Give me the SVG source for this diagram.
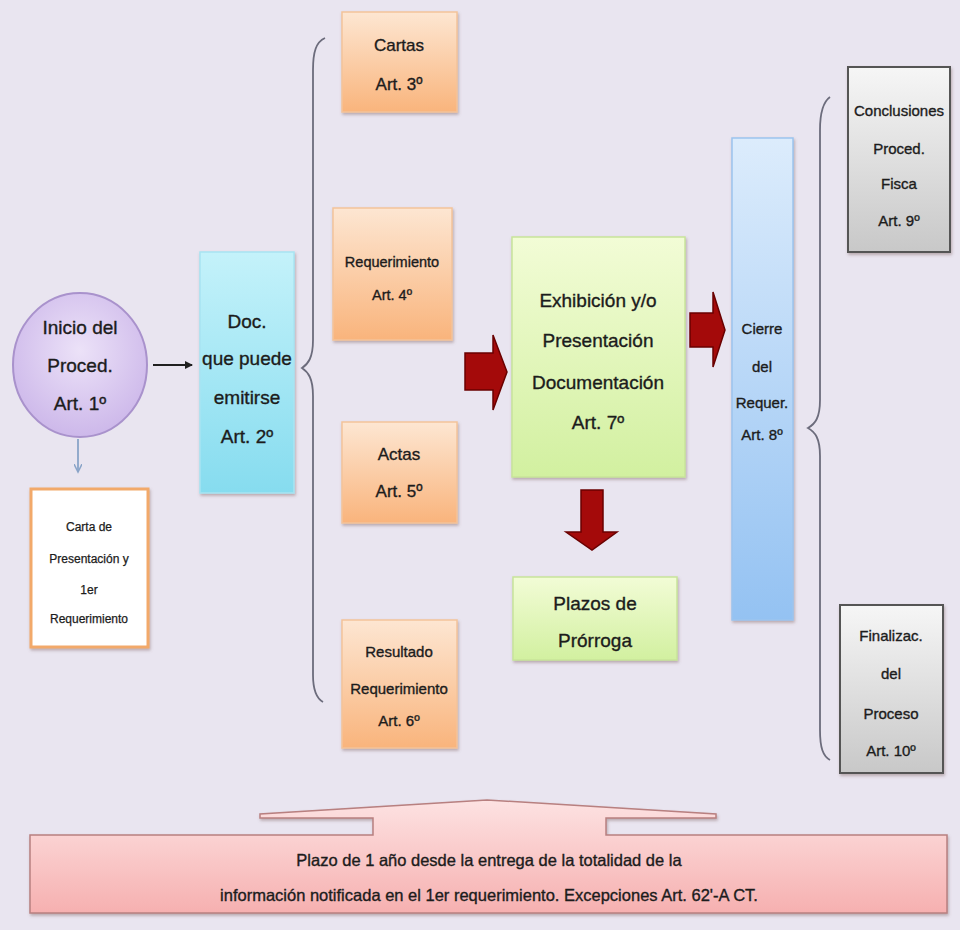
<svg xmlns="http://www.w3.org/2000/svg" width="960" height="930" viewBox="0 0 960 930">
<defs>
<linearGradient id="gOrange" x1="0" y1="0" x2="0" y2="1"><stop offset="0" stop-color="#fde6d2"/><stop offset="1" stop-color="#f9b47c"/></linearGradient>
<linearGradient id="gCyan" x1="0" y1="0" x2="0" y2="1"><stop offset="0" stop-color="#c4f2fa"/><stop offset="1" stop-color="#86dcef"/></linearGradient>
<linearGradient id="gGreen" x1="0" y1="0" x2="0" y2="1"><stop offset="0" stop-color="#f2fcd6"/><stop offset="1" stop-color="#d2f0a0"/></linearGradient>
<linearGradient id="gBlue" x1="0" y1="0" x2="0" y2="1"><stop offset="0" stop-color="#dcecfc"/><stop offset="1" stop-color="#94c2f2"/></linearGradient>
<linearGradient id="gGray" x1="0" y1="0" x2="0" y2="1"><stop offset="0" stop-color="#f6f6f6"/><stop offset="1" stop-color="#c8c8c8"/></linearGradient>
<linearGradient id="gPink" x1="0" y1="0" x2="0" y2="1"><stop offset="0" stop-color="#fde2e2"/><stop offset="1" stop-color="#f6b0b0"/></linearGradient>
<radialGradient id="gPurple" cx="0.5" cy="0.4" r="0.6"><stop offset="0" stop-color="#ece2f8"/><stop offset="1" stop-color="#cdb8ea"/></radialGradient>
<marker id="mBlack" markerWidth="8" markerHeight="8" refX="7" refY="4" orient="auto" markerUnits="userSpaceOnUse"><path d="M0,0 L8,4 L0,8 Z" fill="#202020"/></marker>
<marker id="mBlue" markerWidth="10" markerHeight="8" refX="8" refY="4" orient="auto" markerUnits="userSpaceOnUse"><path d="M0,0 L8,4 L0,8" fill="none" stroke="#8aa4c8" stroke-width="1.5"/></marker>
<filter id="sh" x="-10%" y="-10%" width="130%" height="130%"><feDropShadow dx="1" dy="2" stdDeviation="1.5" flood-color="#806060" flood-opacity="0.45"/></filter>
<style>
text{font-family:"Liberation Sans",Arial,sans-serif;fill:#1c1c1c;stroke:#1c1c1c;stroke-width:0.35;text-anchor:middle;dominant-baseline:central}
.t20{font-size:19px}
.t18{font-size:17px}
.t17{font-size:16.5px}
.t16{font-size:15px}
.t15{font-size:14.5px}
.t12{font-size:12px;stroke-width:0.25}
.orange{fill:url(#gOrange);stroke:#f3c39a;stroke-width:1.5}
.red{fill:#a40a0a;stroke:#6a0000;stroke-width:1.5}
.brace{fill:none;stroke:#6c6c7c;stroke-width:1.8}
</style>
</defs>
<rect width="960" height="930" fill="#e9e5f0"/>

<g id="connectors">
<line x1="78" y1="439" x2="78" y2="472" stroke="#8aa4c8" stroke-width="1.8" marker-end="url(#mBlue)"/>
<line x1="153" y1="365" x2="192" y2="365" stroke="#202020" stroke-width="2.2" marker-end="url(#mBlack)"/>
<path class="brace" d="M325,38 C316,42 313,52 313,70 L313,340 C313,358 308,364 302,368 C308,372 313,378 313,396 L313,675 C313,690 316,698 323,702"/>
<path class="brace" d="M830,97 C823,102 820,112 820,130 L820,400 C820,418 815,424 808,428 C815,432 820,438 820,456 L820,730 C820,748 823,756 830,760"/>
<polygon class="red" points="465,353 493,353 493,335 507,372 493,410 493,390 465,390"/>
<polygon class="red" points="690,313 713,313 713,292 725,330 713,367 713,347 690,347"/>
<polygon class="red" points="581,490 603,490 603,532 617,532 592,550 566,532 581,532"/>
</g>

<g id="inicio">
<ellipse cx="80" cy="365" rx="67" ry="72" fill="url(#gPurple)" stroke="#a992cc" stroke-width="2"/>
<text class="t20" x="80" y="327">Inicio del</text>
<text class="t20" x="80" y="365">Proced.</text>
<text class="t20" x="80" y="403">Art. 1º</text>
</g>

<g id="carta">
<rect x="31" y="489" width="117" height="158" fill="#ffffff" stroke="#f2a96a" stroke-width="3" filter="url(#sh)"/>
<text class="t12" x="89" y="527">Carta de</text>
<text class="t12" x="89" y="559">Presentación y</text>
<text class="t12" x="89" y="590">1er</text>
<text class="t12" x="89" y="619">Requerimiento</text>
</g>

<g id="doc">
<rect x="200" y="252" width="94" height="241" fill="url(#gCyan)" stroke="#a8e4f2" stroke-width="1.5" filter="url(#sh)"/>
<text class="t20" x="247" y="321">Doc.</text>
<text class="t20" x="247" y="358">que puede</text>
<text class="t20" x="247" y="397">emitirse</text>
<text class="t20" x="247" y="436">Art. 2º</text>
</g>

<g id="cartas">
<rect class="orange" x="342" y="12" width="115" height="100" filter="url(#sh)"/>
<text class="t18" x="399" y="45">Cartas</text>
<text class="t18" x="399" y="84">Art. 3º</text>
</g>

<g id="requerimiento">
<rect class="orange" x="333" y="208" width="119" height="132" filter="url(#sh)"/>
<text class="t15" x="392" y="262">Requerimiento</text>
<text class="t15" x="392" y="295">Art. 4º</text>
</g>

<g id="actas">
<rect class="orange" x="342" y="422" width="115" height="101" filter="url(#sh)"/>
<text class="t18" x="399" y="454">Actas</text>
<text class="t18" x="399" y="491">Art. 5º</text>
</g>

<g id="resultado">
<rect class="orange" x="342" y="620" width="115" height="128" filter="url(#sh)"/>
<text class="t16" x="399" y="651">Resultado</text>
<text class="t16" x="399" y="688">Requerimiento</text>
<text class="t16" x="399" y="720">Art. 6º</text>
</g>

<g id="exhibicion">
<rect x="512" y="237" width="173" height="240" fill="url(#gGreen)" stroke="#c8e49a" stroke-width="1.5" filter="url(#sh)"/>
<text class="t20" x="598" y="300">Exhibición y/o</text>
<text class="t20" x="598" y="340">Presentación</text>
<text class="t20" x="598" y="382">Documentación</text>
<text class="t20" x="598" y="422">Art. 7º</text>
</g>

<g id="plazos">
<rect x="513" y="577" width="164" height="83" fill="url(#gGreen)" stroke="#c8e49a" stroke-width="1.5" filter="url(#sh)"/>
<text class="t20" x="595" y="603">Plazos de</text>
<text class="t20" x="595" y="640">Prórroga</text>
</g>

<g id="cierre">
<rect x="732" y="138" width="61" height="482" fill="url(#gBlue)" stroke="#9cc4ee" stroke-width="1.5" filter="url(#sh)"/>
<text class="t16" x="762" y="328">Cierre</text>
<text class="t16" x="762" y="366">del</text>
<text class="t16" x="762" y="402">Requer.</text>
<text class="t16" x="762" y="434">Art. 8º</text>
</g>

<g id="conclusiones">
<rect x="848" y="67" width="102" height="185" fill="url(#gGray)" stroke="#555555" stroke-width="2" filter="url(#sh)"/>
<text class="t16" x="899" y="110">Conclusiones</text>
<text class="t16" x="899" y="148">Proced.</text>
<text class="t16" x="899" y="183">Fisca</text>
<text class="t16" x="899" y="220">Art. 9º</text>
</g>

<g id="finalizac">
<rect x="840" y="605" width="103" height="168" fill="url(#gGray)" stroke="#555555" stroke-width="2" filter="url(#sh)"/>
<text class="t16" x="891" y="635">Finalizac.</text>
<text class="t16" x="891" y="673">del</text>
<text class="t16" x="891" y="713">Proceso</text>
<text class="t16" x="891" y="750">Art. 10º</text>
</g>

<g id="plazo-anual">
<path d="M30,835 L373,835 L373,818 L260,818 L260,814 L487,800 L716,814 L716,818 L606,818 L606,835 L947,835 L947,913 L30,913 Z" fill="url(#gPink)" stroke="#b88080" stroke-width="1.5" filter="url(#sh)"/>
<text class="t17" x="489" y="860">Plazo de 1 año desde la entrega de la totalidad de la</text>
<text class="t17" x="489" y="895">información notificada en el 1er requerimiento. Excepciones Art. 62'-A CT.</text>
</g>
</svg>
